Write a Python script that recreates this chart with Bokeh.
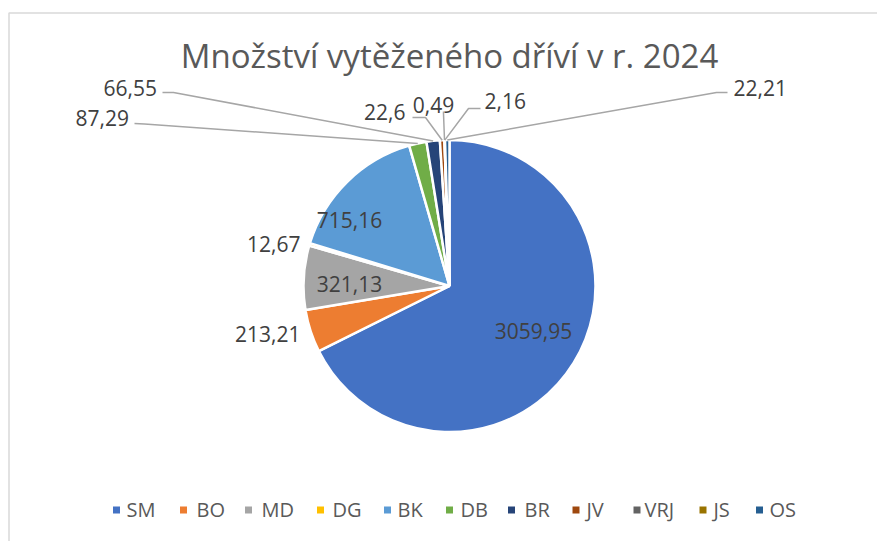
import math
from bokeh.plotting import figure
from bokeh.models import Range1d
from bokeh.core.properties import value
from bokeh.embed import file_html
from bokeh.resources import INLINE

# ---------------- data ----------------
categories = ["SM", "BO", "MD", "DG", "BK", "DB", "BR", "JV", "VRJ", "JS", "OS"]
volumes = [3059.95, 213.21, 321.13, 12.67, 715.16, 87.29, 66.55, 22.6, 0.49, 2.16, 22.21]
colors = ["#4472C4", "#ED7D31", "#A5A5A5", "#FFC000", "#5B9BD5", "#70AD47",
          "#264478", "#9E480E", "#636363", "#997300", "#255E91"]
title_text = "Množství vytěženého dříví v r. 2024"

# ---------------- layout (image pixel coordinates, y downwards) ----------------
W, H = 877, 541
CX, CY, R = 449, 285.5, 146
FONT = "Open Sans"

# label anchor x, y, align, leader start, leader elbow (None = no leader)
label_layout = {
    "SM": (533, 330, "center", None, None),
    "BO": (300, 333, "right", None, None),
    "MD": (349, 283, "center", None, None),
    "DG": (300, 243, "right", None, None),
    "BK": (349, 219, "center", None, None),
    "DB": (75, 117, "left", (134, 123), (144, 123.5)),
    "BR": (103, 87, "left", (162, 92), (173, 92)),
    "JV": (405, 111, "right", (412, 117), (425, 117)),
    "VRJ": (433, 104, "center", (443, 111), (443, 113)),
    "JS": (484, 100, "left", (480, 108), (468, 108)),
    "OS": (733, 87, "left", (727, 92), (716, 92)),
}
legend_square_x = [116, 183, 248, 320, 387, 449, 511, 575.5, 636.5, 702.5, 759]
legend_text_x = [126, 196, 261, 332, 397, 460, 524, 586, 644, 713, 769]
legend_y = 509.5


def fy(y):
    return H - y


p = figure(width=W, height=H, x_range=Range1d(0, W), y_range=Range1d(0, H),
           output_backend="svg", toolbar_location=None, min_border=0,
           background_fill_color="white", border_fill_color="white")
p.axis.visible = False
p.xgrid.visible = False
p.ygrid.visible = False
p.outline_line_color = None

# chart frame (top and left edge visible)
p.line(x=[8.5, 8.5, W], y=[fy(H), fy(12.5), fy(12.5)], line_color="#D9D9D9", line_width=1.5)

# title
p.text(x=[CX], y=[fy(55)], text=[title_text], text_align="center", text_baseline="middle",
       text_font=value(FONT), text_font_size="33px", text_color="#595959")

# pie wedges
total = sum(volumes)
cum = 0.0
starts, ends, mids = [], [], []
for v in volumes:
    a0 = cum / total
    cum += v
    a1 = cum / total
    starts.append(math.pi / 2 - 2 * math.pi * a1)
    ends.append(math.pi / 2 - 2 * math.pi * a0)
    mids.append(math.pi / 2 - math.pi * (a0 + a1))

p.wedge(x=[CX] * len(volumes), y=[fy(CY)] * len(volumes), radius=R,
        start_angle=starts, end_angle=ends, fill_color=colors,
        line_color="white", line_width=2.5)

# data labels + leader lines
xs_lead, ys_lead = [], []
for cat, v, m in zip(categories, volumes, mids):
    lx, ly, align, lstart, lelbow = label_layout[cat]
    txt = repr(v).replace(".", ",")
    p.text(x=[lx], y=[fy(ly)], text=[txt], text_align=align, text_baseline="middle",
           text_font=value(FONT), text_font_size="21px", text_color="#404040")
    if lstart is not None:
        ex = CX + R * math.cos(m)
        ey = fy(CY) + R * math.sin(m)
        xs_lead.append([lstart[0], lelbow[0], ex])
        ys_lead.append([fy(lstart[1]), fy(lelbow[1]), ey])
p.multi_line(xs=xs_lead, ys=ys_lead, line_color="#A6A6A6", line_width=1.5)

# legend
p.rect(x=legend_square_x, y=[fy(legend_y)] * len(categories), width=7, height=7,
       fill_color=colors, line_color=None)
p.text(x=legend_text_x, y=[fy(legend_y - 0.5)] * len(categories), text=categories,
       text_align="left", text_baseline="middle", text_font=value(FONT),
       text_font_size="20px", text_color="#595959")

open("out.html", "w").write(file_html(p, INLINE))
